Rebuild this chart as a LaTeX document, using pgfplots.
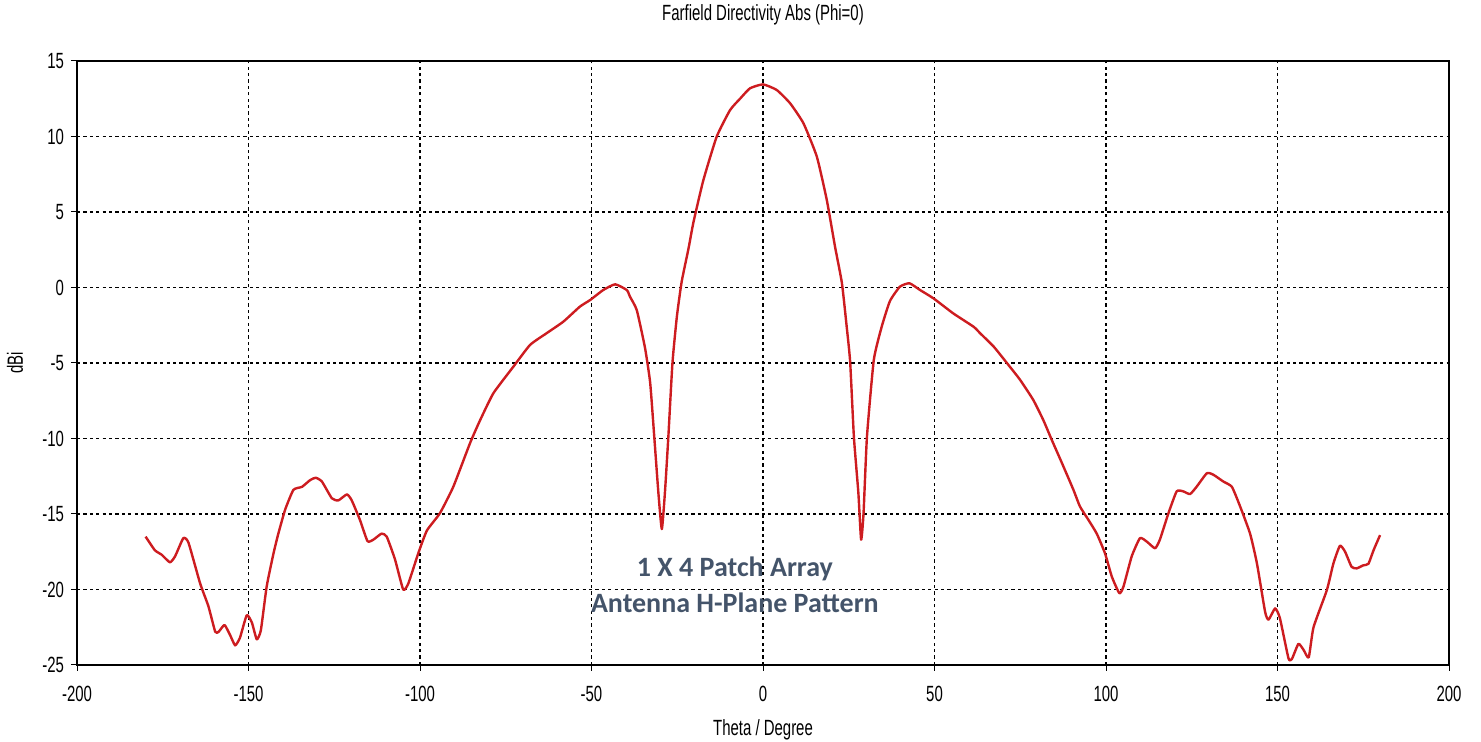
\documentclass[border=0pt]{standalone}
\usepackage{fontspec}
\setmainfont{Liberation Sans}
\newfontfamily\narrowfont[FakeStretch=0.68]{Liberation Sans}
\newfontfamily\annofont{Carlito}
\usepackage{pgfplots}
\pgfplotsset{compat=1.18}
\definecolor{curvered}{RGB}{205,28,32}
\definecolor{annoblue}{RGB}{68,84,106}
\begin{document}
\begin{tikzpicture}
\path[use as bounding box] (-38.5pt,-38.5pt) rectangle (702pt,332.5pt);
\begin{axis}[
  at={(0,0)}, anchor=south west,
  scale only axis, width=686pt, height=302pt,
  xmin=-200, xmax=200, ymin=-25, ymax=15,
  xtick={-200,-150,...,200}, ytick={-25,-20,...,15},
  tick align=outside, major tick length=3pt,
  tick style={black, line width=0.5pt},
  xtick pos=bottom, ytick pos=left,
  grid=major,
  major grid style={black, line width=0.6pt, dash pattern=on 1.6pt off 1.6pt},
  axis line style={black, line width=0.8pt},
  /pgf/number format/assume math mode=true,
  ticklabel style={font=\narrowfont\fontsize{11}{12}\selectfont},
  xticklabel style={yshift=-4pt},
  label style={font=\narrowfont\fontsize{11}{12}\selectfont},
  xlabel={Theta / Degree},
  xlabel style={at={(axis description cs:0.5,0)}, anchor=center, yshift=-32.5pt},
  ylabel={dBi},
  ylabel style={at={(axis description cs:0,0.5)}, anchor=center, rotate=0, yshift=31pt},
  title={Farfield Directivity Abs (Phi=0)},
  title style={font=\narrowfont\fontsize{11}{12}\selectfont, at={(0.5,1)}, anchor=center, yshift=17pt},
]
\addplot[curvered, line width=1.2pt, line join=round, smooth, tension=0.3] coordinates {
(-180,-16.5) (-177.3,-17.4) (-175.3,-17.7) (-172.9,-18.2) (-171.4,-17.8)
(-169,-16.6) (-167.5,-16.9) (-164.1,-19.6) (-161.7,-21.1) (-159.7,-22.8)
(-158.7,-22.8) (-157,-22.35) (-155.4,-23.0) (-153.9,-23.7) (-152.5,-23.2)
(-150.5,-21.7) (-149,-22.2) (-147.6,-23.3) (-146.4,-22.7) (-144.7,-19.8)
(-142.7,-17.6) (-141.3,-16.3) (-139.3,-14.7) (-136.9,-13.4) (-134.4,-13.2)
(-132,-12.75) (-130.4,-12.6) (-128.6,-12.85) (-125.7,-13.96) (-123.8,-14.1)
(-121.3,-13.7) (-119.9,-14.1) (-117.5,-15.4) (-115.3,-16.8) (-113.6,-16.7)
(-111.2,-16.3) (-109.7,-16.5) (-107.3,-18.0) (-104.9,-20.0) (-103.4,-19.6)
(-100.5,-17.6) (-98,-16.1) (-94.2,-14.95) (-90.3,-13.2) (-85.4,-10.3)
(-82.5,-8.8) (-78.6,-7.0) (-72.8,-5.25) (-67.9,-3.8) (-63.1,-3.03)
(-58.2,-2.26) (-53.4,-1.27) (-50.4,-0.83) (-46.6,-0.17) (-43.1,0.21)
(-39.7,-0.17) (-38.8,-0.6) (-36.8,-1.5) (-34.4,-4.0) (-32.9,-6.3)
(-31.7,-9.9) (-30.5,-13.6) (-29.5,-16.0) (-28.6,-13.6) (-27.6,-9.9)
(-26.4,-5.0) (-25.1,-1.9) (-23.7,0.4) (-21.7,2.6) (-20.3,4.3)
(-17.4,7.1) (-13.5,9.99) (-9.6,11.75) (-6.7,12.5) (-3.8,13.19)
(0,13.45) (4.0,13.08) (7.9,12.2) (11.8,10.87) (15.7,8.66)
(18.6,5.79) (21.0,2.7) (23.0,0.3) (24.4,-2.6) (25.4,-4.9)
(26.5,-9.9) (27.8,-13.6) (28.6,-16.7) (29.3,-15.0) (30.3,-9.9)
(32.3,-4.8) (34.6,-2.6) (37.0,-0.9) (39.9,0.05) (42.7,0.28)
(45.8,-0.17) (49.7,-0.72) (55.5,-1.72) (61.4,-2.6) (63.3,-3.03)
(67.2,-3.9) (71.1,-5.0) (74.9,-6.1) (78.8,-7.45) (81.7,-8.77)
(84.2,-10.1) (87.1,-11.6) (90.5,-13.4) (92.4,-14.5) (94.9,-15.4)
(97.3,-16.3) (99.7,-17.6) (101.7,-19.15) (103.9,-20.25) (105.1,-19.8)
(107.5,-17.8) (109.9,-16.6) (111.9,-16.83) (114.3,-17.27) (115.7,-16.7)
(118.2,-14.95) (120.6,-13.5) (122.5,-13.5) (124.5,-13.68) (126.4,-13.2)
(129.4,-12.3) (131.3,-12.4) (134.2,-12.85) (136.7,-13.2) (139.1,-14.5)
(142.0,-16.3) (144.0,-18.27) (146.4,-21.5) (147.4,-22.0) (149.3,-21.25)
(150.7,-21.9) (153.2,-24.56) (154.2,-24.6) (156.1,-23.6) (157.6,-24.0)
(159.1,-24.5) (160.5,-22.5) (164.4,-20.03) (166.3,-18.27) (168.2,-17.1)
(169.7,-17.5) (171.6,-18.5) (173.1,-18.6) (175.0,-18.4) (176.5,-18.3)
(178.0,-17.4) (179.9,-16.4)
};
\node[font=\annofont\bfseries\fontsize{14}{18}\selectfont, text=annoblue, align=center]
  at (axis cs:-8.2,-19.7) {1 X 4 Patch Array\\Antenna H-Plane Pattern};
\end{axis}
\end{tikzpicture}
\end{document}
